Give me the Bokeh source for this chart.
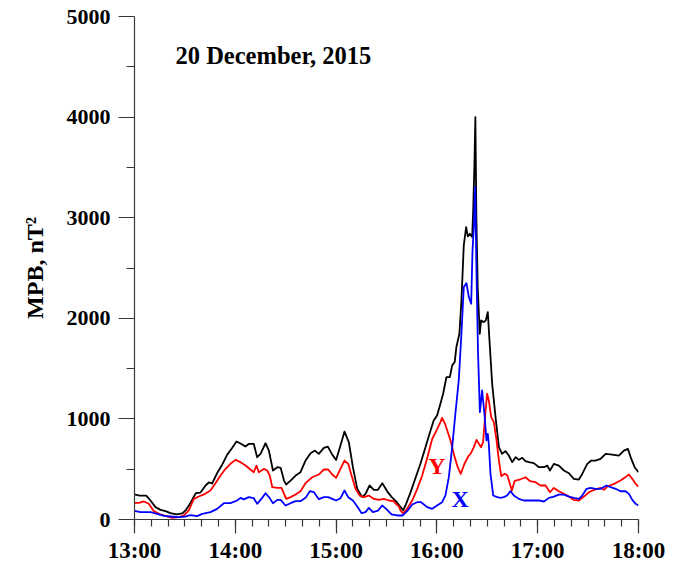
from bokeh.plotting import figure
from bokeh.models import FixedTicker, PrintfTickFormatter, Range1d, Label
from bokeh.embed import file_html
from bokeh.resources import INLINE

# MPB index, 20 December 2015, 13:00-18:00 UT.
# Times are minutes after 13:00; values in nT^2.
total_min = [0, 3, 7, 9.5, 12.5, 15.5, 18.5, 21.4, 25, 28.4, 30.4, 33.3, 36.5, 39.3, 42.3,
             44.2, 46.2, 49.2, 52.2, 55.2, 58.1, 60.7, 63.1, 66, 68, 71, 73, 75, 78, 80,
             82.4, 85, 87, 89, 90.3, 92.9, 95.9, 98.8, 101.8, 104.8, 107.4, 109.7, 112.7,
             115.1, 117.7, 120, 122.6, 125, 127.6, 130, 132.6, 135.5, 137.5, 139.9, 142.5,
             144.9, 147.5, 150.4, 153, 156, 158.5, 159.9, 161.3, 164.3, 167.2, 170.2,
             173.2, 176.2, 178.1, 180.1, 182.1, 183.7, 185.7, 187.7, 189.1, 190.6, 191.6,
             193.4, 194.6, 196, 197.4, 198.4, 199.6, 201, 201.6, 202.3, 202.9, 203.5,
             204.3, 205.5, 206.3, 207.9, 209.1, 210.3, 211.3, 212.9, 214.9, 216.9, 218.8,
             220.8, 222.8, 224.8, 226.8, 228.8, 230.8, 232.7, 234.7, 237.7, 240.7, 243.7,
             245.7, 247.3, 249.6, 252.6, 255.6, 258.6, 261.5, 264.5, 266.5, 269.5, 271.9,
             274.4, 277.4, 280.4, 284.4, 288.3, 291.3, 293.7, 295.7, 297.7, 300]
total_val = [250, 238, 238, 189, 123, 96, 83, 63, 52, 60, 90, 165, 262, 268, 338,
             368, 358, 462, 545, 645, 710, 775, 755, 725, 751, 751, 619, 652, 758, 685,
             487, 520, 513, 387, 348, 387, 437, 470, 586, 659, 685, 652, 712,
             725, 645, 592, 735, 874, 768, 520, 305, 222, 255, 338, 295,
             295, 360, 280, 225, 175, 120, 92, 139, 270, 410, 554,
             719, 885, 985, 1034, 1150, 1250, 1416, 1416, 1532, 1565, 1714,
             1846, 2178, 2725, 2907, 2814, 2841, 2808, 3073, 3504, 4000, 3007,
             2311, 1846, 1979, 1962, 1979, 2062, 1780, 1349, 1018, 719, 653,
             680, 636, 570, 620, 593, 613, 580, 570, 560, 520, 520,
             536, 487, 553, 536, 487, 460, 404, 397, 453, 553, 586,
             586, 602, 652, 645, 636, 685, 702, 602, 520, 470]

y_min = [0, 2.6, 5.6, 8.5, 11.5, 15.5, 19.4, 22.4, 26.4, 29.4, 32.3, 35.3, 38.3, 41.3,
         45.2, 48.2, 51.2, 54.2, 57.1, 60.1, 63.1, 66.1, 69, 71, 72.6, 74, 77, 79, 80.5,
         82, 85, 87.5, 90.3, 92.9, 95.9, 98.8, 101.8, 105.8, 109.7, 112.7, 115.3, 117.7,
         120, 122.6, 125, 127.2, 129.2, 131.6, 134, 136.5, 139.5, 142.5, 145.5, 148.4,
         151.4, 154.4, 155.3, 157.4, 158.3, 159.9, 162.3, 165.3, 168.2, 171.2, 174.2,
         177.2, 180.1, 182.1, 183.1, 185.1, 188.1, 190.4, 192.4, 194.2, 196.4, 199, 200,
         202, 203.6, 205, 206.3, 207.5, 208.9, 209.9, 210.9, 212.3, 213.9, 215.5, 216.9,
         218.3, 220.3, 221.9, 223.5, 224.6, 226.3, 229.8, 232.8, 235.4, 238.7, 241.7,
         244.7, 247.3, 249.6, 252.6, 255.6, 258.6, 261.5, 264.5, 267.5, 270.5, 273.5,
         277.4, 279.4, 281.4, 285.4, 289.3, 291.7, 294.3, 296.3, 298.3, 300]
y_val = [166, 166, 179, 156, 83, 50, 30, 17, 23, 40, 90, 205, 229, 249,
         288, 361, 438, 504, 554, 593, 570, 537, 497, 470, 536, 470, 503, 487, 437,
         321, 314, 314, 205, 222, 248, 281, 361, 420, 447, 497, 497, 447,
         414, 503, 586, 553, 437, 305, 238, 222, 238, 205, 195, 205,
         189, 182, 160, 129, 90, 60, 106, 189, 300, 435, 610,
         800, 895, 968, 1011, 940, 786, 630, 520, 454, 554, 636, 653,
         719, 792, 752, 719, 769, 1067, 1250, 1183, 1018, 968, 786, 587,
         430, 455, 440, 350, 288, 385, 400, 420, 381, 371, 338,
         338, 271, 314, 281, 255, 228, 195, 189, 228, 271, 295,
         314, 295, 328, 354, 387, 414, 447, 404, 354, 328]

x_min = [0, 3.6, 9.5, 13.5, 17.5, 21.4, 26.4, 30.4, 33.3, 37.3, 40.3, 45.2, 49.2, 53.2,
         57.1, 61.1, 63.1, 65.1, 68, 71, 73, 76, 78, 80.4, 82.4, 85, 87, 89.9, 92.9,
         95.9, 98.8, 101.8, 104.4, 106.8, 109.7, 112.7, 115.3, 117.7, 120, 122.6, 125,
         127.2, 130, 132.6, 135.2, 137.5, 139.5, 141.9, 145, 147.4, 149.8, 153, 156.4,
         159.5, 162.3, 165.3, 168.2, 170.6, 174.2, 177.2, 180.1, 183.1, 185.1, 187.1,
         189.1, 191, 193, 194.6, 196, 197.6, 199, 200.4, 201.2, 202, 202.8, 203.5, 204.5,
         205.6, 206.9, 208.3, 209.5, 210.3, 210.9, 211.9, 213.5, 215.9, 217.9, 219.8,
         221.8, 223.8, 225.8, 228.8, 231.7, 237.7, 240.7, 243.7, 246.7, 249.6, 252.6,
         255.6, 258.6, 261.5, 264.5, 266.5, 269.1, 271.5, 274.4, 277.4, 281, 283.4, 286.4,
         289.3, 292.3, 294.3, 296.3, 298.3, 300]
x_val = [86, 73, 73, 56, 36, 30, 23, 30, 43, 33, 56, 73, 106, 162,
         162, 189, 215, 200, 222, 212, 156, 215, 261, 215, 162, 195, 195, 139, 162,
         182, 182, 215, 281, 271, 202, 222, 222, 205, 189, 212, 288,
         222, 189, 129, 63, 73, 116, 73, 89, 139, 106, 50, 40,
         40, 83, 149, 172, 172, 123, 106, 139, 172, 239, 421,
         719, 1051, 1382, 1846, 2311, 2350, 2211, 2145, 2675, 2907, 3305, 2510, 1648,
         1067, 1283, 1051, 786, 852, 752, 454, 239, 222, 215, 222,
         239, 282, 239, 205, 189, 189, 189, 179, 215, 228, 248,
         248, 228, 215, 205, 238, 305, 314, 305, 305, 338, 321, 305,
         281, 281, 255, 195, 156, 139]

hour_ticks = [13, 14, 15, 16, 17, 18]
value_ticks = [0, 1000, 2000, 3000, 4000, 5000]


def to_hours(minutes):
    return [13 + m / 60.0 for m in minutes]


SERIF = "Liberation Serif"
AXIS_GREY = "#383838"

p = figure(width=674, height=570, output_backend="svg", toolbar_location=None,
           x_range=Range1d(13, 18), y_range=Range1d(0, 5000),
           min_border_left=134, min_border_right=36,
           min_border_top=16, min_border_bottom=51)
p.outline_line_color = None
p.grid.visible = False
p.background_fill_color = "white"
p.border_fill_color = "white"

p.line(to_hours(total_min), total_val, line_color="black", line_width=1.8, line_join="round")
p.line(to_hours(y_min), y_val, line_color="#ff0000", line_width=1.8, line_join="round")
p.line(to_hours(x_min), x_val, line_color="#0000ff", line_width=1.8, line_join="round")

# x axis: hours with 10-minute minor ticks
p.xaxis.ticker = FixedTicker(ticks=hour_ticks,
                             minor_ticks=[13 + k / 6.0 for k in range(31)])
p.xaxis.formatter = PrintfTickFormatter(format="%d:00")
p.xaxis.major_tick_out = 14
p.xaxis.major_tick_in = 0
p.xaxis.minor_tick_out = 7
p.xaxis.minor_tick_in = 0
p.xaxis.major_label_standoff = 4
p.xaxis.major_label_text_font = SERIF
p.xaxis.major_label_text_font_style = "bold"
p.xaxis.major_label_text_font_size = "23px"
p.xaxis.major_label_text_color = "black"

# y axis
p.yaxis.ticker = FixedTicker(ticks=value_ticks,
                             minor_ticks=[500, 1500, 2500, 3500, 4500])
p.yaxis.major_tick_out = 16
p.yaxis.major_tick_in = 0
p.yaxis.minor_tick_out = 8
p.yaxis.minor_tick_in = 0
p.yaxis.major_label_standoff = 8
p.yaxis.major_label_text_font = SERIF
p.yaxis.major_label_text_font_style = "bold"
p.yaxis.major_label_text_font_size = "22px"
p.yaxis.major_label_text_color = "black"
p.yaxis.axis_label = "MPB, nT²"
p.yaxis.axis_label_text_font = SERIF
p.yaxis.axis_label_text_font_style = "bold"
p.yaxis.axis_label_text_font_size = "24px"
p.yaxis.axis_label_text_color = "black"
p.yaxis.axis_label_standoff = 16

for ax in (p.xaxis, p.yaxis):
    ax.axis_line_color = AXIS_GREY
    ax.major_tick_line_color = AXIS_GREY
    ax.minor_tick_line_color = AXIS_GREY
    ax.axis_line_width = 1.2
    ax.major_tick_line_width = 1.2
    ax.minor_tick_line_width = 1.2

p.add_layout(Label(x=13.407, y=4610, text="20 December, 2015", text_align="left",
                   text_baseline="middle", text_font=SERIF, text_font_style="bold",
                   text_font_size="24.5px", text_color="black"))
p.add_layout(Label(x=16.0, y=530, text="Y", text_align="center", text_baseline="middle",
                   text_font=SERIF, text_font_style="bold", text_font_size="24px",
                   text_color="#ff0000"))
p.add_layout(Label(x=16.23, y=200, text="X", text_align="center", text_baseline="middle",
                   text_font=SERIF, text_font_style="bold", text_font_size="24px",
                   text_color="#0000ff"))

open("out.html", "w").write(file_html(p, INLINE))
